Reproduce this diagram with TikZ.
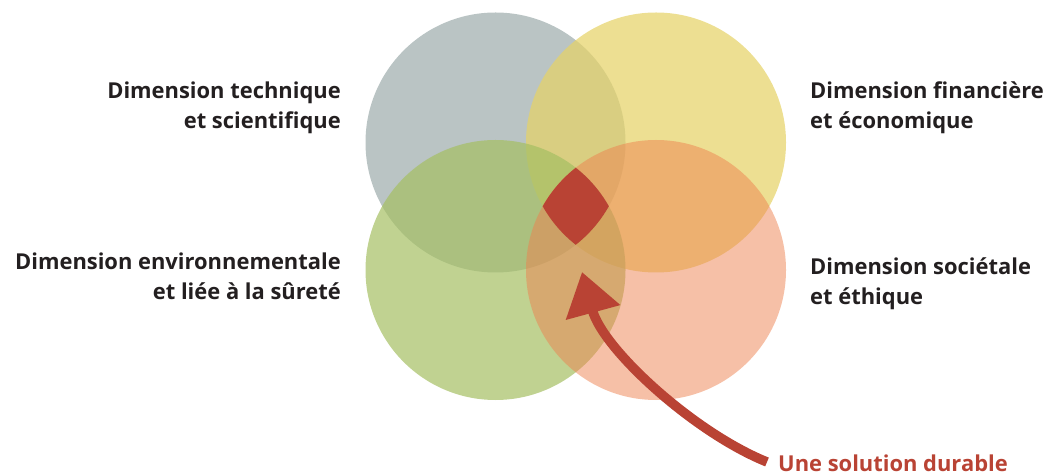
\documentclass[tikz,border=0pt]{standalone}
\usepackage{fontspec}
\setmainfont{Open Sans}
\usetikzlibrary{arrows.meta}
\definecolor{cgray}{RGB}{186,196,196}
\definecolor{cyellow}{RGB}{230,211,104}
\definecolor{cgreen}{RGB}{165,191,99}
\definecolor{csalmon}{RGB}{237,129,79}
\definecolor{cred}{RGB}{185,67,52}
\definecolor{ctext}{RGB}{35,31,32}
\begin{document}
\begin{tikzpicture}[x=1bp,y=-1bp,
  lbl/.style={font=\fontsize{22}{27}\selectfont\bfseries, text=ctext, inner sep=0pt},
  lblL/.style={lbl, anchor=base east},
  lblR/.style={lbl, anchor=base west},
  disc/.style={radius=130bp}]
\useasboundingbox (0,0) rectangle (1050,472);
\coordinate (cG) at (495.5,142.5);
\coordinate (cY) at (656,142.5);
\coordinate (cV) at (495.5,270);
\coordinate (cS) at (656,270);
\fill[cgray] (cG) circle[disc];
\fill[cyellow, fill opacity=0.72] (cY) circle[disc];
\fill[cgreen, fill opacity=0.7] (cV) circle[disc];
\fill[csalmon, fill opacity=0.5] (cS) circle[disc];
\begin{scope}
  \clip (cG) circle[disc];
  \clip (cY) circle[disc];
  \clip (cV) circle[disc];
  \fill[cred] (cS) circle[disc];
\end{scope}
\node[lblL] (t1a) at (341,99) {Dimension technique};
\node[lblL] (t1b) at (341,129) {et scientifique};
\node[lblL] (t3a) at (341,270) {Dimension environnementale};
\node[lblL] (t3b) at (341,300) {et liée à la sûreté};
\node[lblR] (t2a) at (810,99) {Dimension financière};
\node[lblR] (t2b) at (810,129) {et économique};
\node[lblR] (t4a) at (810,275) {Dimension sociétale};
\node[lblR] (t4b) at (810,305) {et éthique};
\node[lbl, anchor=base west, text=cred] (sol) at (778,471) {Une solution durable};
\coordinate (as) at (767,462);
\coordinate (tip) at (582,272);
\draw[cred, line width=9.5bp, -{Triangle[length=42bp,width=54bp]}] (as) .. controls (693,432) and (603,349) .. (tip);
\end{tikzpicture}
\end{document}
